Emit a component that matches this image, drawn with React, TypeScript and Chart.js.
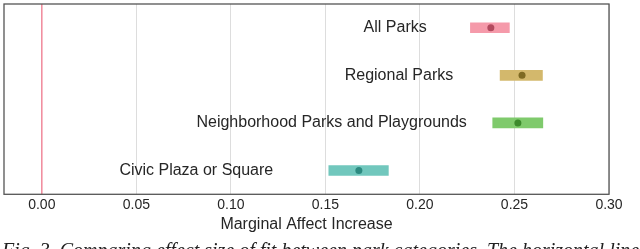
import React, { useEffect, useRef } from "react";
import { Chart, registerables } from "chart.js";

Chart.register(...registerables);

const categories = [
  "All Parks",
  "Regional Parks",
  "Neighborhood Parks and Playgrounds",
  "Civic Plaza or Square",
];
const lowerBounds = [0.2267, 0.2424, 0.2385, 0.1518];
const upperBounds = [0.2473, 0.2648, 0.265, 0.1833];
const means = [0.2375, 0.254, 0.2518, 0.1677];
const labelAnchors = [0.2036, 0.2176, 0.2248, 0.1224];
const tickValues = [0, 0.05, 0.1, 0.15, 0.2, 0.25, 0.3];
const tickLabels = ["0.00", "0.05", "0.10", "0.15", "0.20", "0.25", "0.30"];
const barColors = ["#f59aaa", "#d3b86c", "#7fca6c", "#71c7bd"];
const dotColors = ["#b24a5e", "#7f6a22", "#3c8a2c", "#2c8a80"];

const FONT = "'Liberation Sans', Arial, sans-serif";

const framePlugin = {
  id: "frame",
  afterDatasetsDraw(chart: any) {
    const { ctx, chartArea } = chart;
    const xs = chart.scales.x;
    const ys = chart.scales.y;
    ctx.save();
    ctx.font = `16px ${FONT}`;
    ctx.fillStyle = "#262626";
    ctx.textAlign = "right";
    ctx.textBaseline = "middle";
    categories.forEach((c, i) => {
      ctx.fillText(c, xs.getPixelForValue(labelAnchors[i]), ys.getPixelForValue(i));
    });
    ctx.strokeStyle = "#555555";
    ctx.lineWidth = 1.3;
    ctx.strokeRect(chartArea.left, chartArea.top, chartArea.right - chartArea.left, chartArea.bottom - chartArea.top);
    ctx.restore();
  },
  beforeDatasetsDraw(chart: any) {
    const { ctx, chartArea } = chart;
    const xs = chart.scales.x;
    const x0 = xs.getPixelForValue(0);
    ctx.save();
    ctx.strokeStyle = "#f28a9c";
    ctx.lineWidth = 1.5;
    ctx.beginPath();
    ctx.moveTo(x0, chartArea.top);
    ctx.lineTo(x0, chartArea.bottom);
    ctx.stroke();
    ctx.restore();
  },
};

export default function App() {
  const ref = useRef<HTMLCanvasElement>(null);
  useEffect(() => {
    if (!ref.current) return;
    const chart = new Chart(ref.current, {
      type: "bar",
      data: {
        labels: categories,
        datasets: [
          {
            type: "bar",
            data: categories.map((_, i) => [lowerBounds[i], upperBounds[i]]) as any,
            backgroundColor: barColors,
            borderWidth: 0,
            barThickness: 10,
            order: 2,
          },
          {
            type: "scatter",
            data: categories.map((c, i) => ({ x: means[i], y: i })) as any,
            backgroundColor: dotColors,
            borderWidth: 0,
            pointRadius: 3.5,
            order: 1,
          } as any,
        ],
      },
      options: {
        indexAxis: "y",
        animation: false,
        responsive: false,
        maintainAspectRatio: false,
        layout: { padding: { left: 4, right: 31, top: 1, bottom: 15 } },
        plugins: { legend: { display: false }, tooltip: { enabled: false } },
        scales: {
          y: {
            type: "category",
            display: false,
            offset: true,
            grid: { display: false },
          },
          x: {
            type: "linear",
            min: -0.02,
            max: 0.3,
            afterBuildTicks: (scale: any) => {
              scale.ticks = tickValues.map((v) => ({ value: v }));
            },
            ticks: {
              padding: 2.4,
              color: "#262626",
              font: { family: FONT, size: 14 },
              callback: (v: any) => {
                const i = tickValues.findIndex((t) => Math.abs(t - Number(v)) < 1e-9);
                return i >= 0 ? tickLabels[i] : "";
              },
            },
            grid: { color: "#dddddd", lineWidth: 1, drawTicks: false },
            border: { display: false },
            title: {
              display: true,
              text: "Marginal Affect Increase",
              color: "#262626",
              font: { family: FONT, size: 16 },
              padding: { top: -1.1, bottom: 0 },
            },
          },
        },
      },
      plugins: [framePlugin],
    });
    return () => chart.destroy();
  }, []);
  return (
    <div style={{ position: "fixed", left: 0, top: 0, width: 640, height: 249, overflow: "hidden", background: "#fff" }}>
      <canvas ref={ref} width={640} height={249} style={{ position: "absolute", left: 0, top: 0 }} />
      <div
        style={{
          position: "absolute",
          left: 2,
          top: 240,
          whiteSpace: "nowrap",
          fontFamily: "'Liberation Serif', 'Times New Roman', serif",
          fontStyle: "italic",
          fontSize: 20,
          lineHeight: "20px",
          color: "#222",
        }}
      >
        Fig. 3. Comparing effect size of fit between park categories. The horizontal line
      </div>
    </div>
  );
}
